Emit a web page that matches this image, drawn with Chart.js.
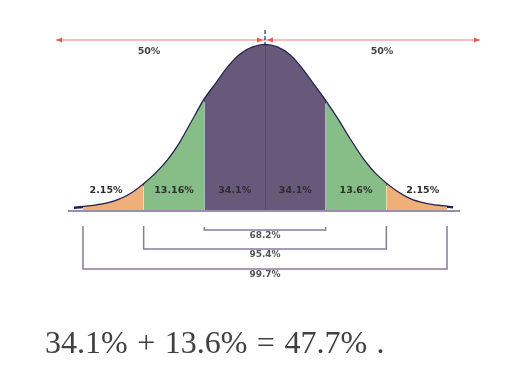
<!DOCTYPE html>
<html>
<head>
<meta charset="utf-8">
<script src="https://cdn.jsdelivr.net/npm/chart.js@4"></script>
<style>
  body { margin: 0; background: #fff; }
  #wrap { position: relative; width: 516px; height: 380px; }
  #chart { position: absolute; left: 0; top: 0; }
  #formula {
    position: absolute; left: 45px; top: 326px;
    font-family: "Liberation Serif", serif; font-size: 32px; line-height: 32px;
    color: #404040; white-space: pre; word-spacing: 1.5px;
  }
</style>
</head>
<body>
<div id="wrap">
  <canvas id="chart" width="516" height="380"></canvas>
  <div id="formula">34.1% + 13.6% = 47.7% .</div>
</div>
<script>
// curve: z (in sigma) and relative height (peak = 1)
const zVals = [-3.15, -3.0, -2.8, -2.6, -2.4, -2.2, -2.0, -1.8, -1.6, -1.4, -1.2, -1.0, -0.8, -0.6, -0.4, -0.2, 0,
  0.2, 0.4, 0.6, 0.8, 1.0, 1.2, 1.4, 1.6, 1.8, 2.0, 2.2, 2.4, 2.6, 2.8, 3.0, 3.1];
const heights = [0.019, 0.024, 0.032, 0.045, 0.068, 0.105, 0.160, 0.225, 0.305, 0.41, 0.54, 0.67, 0.77, 0.87, 0.945, 0.985, 1.0,
  0.985, 0.94, 0.86, 0.76, 0.66, 0.55, 0.43, 0.32, 0.23, 0.163, 0.11, 0.07, 0.047, 0.033, 0.026, 0.022];

const bounds = [-3, -2, -1, 0, 1, 2, 3];
const segLabels = ['2.15%', '13.16%', '34.1%', '34.1%', '13.6%', '2.15%'];
const rangeLabels = ['68.2%', '95.4%', '99.7%'];   // +-1, +-2, +-3 sigma
const halfLabels = ['50%', '50%'];

const ORANGE = '#F0AF78', GREEN = '#87BD87', PURPLE = '#685879';

const pts = zVals.map((z, i) => ({ x: z, y: heights[i] }));
const slice = (a, b) => pts.filter(p => p.x >= a - 1e-9 && p.x <= b + 1e-9);

function fillSet(a, b, color) {
  return {
    data: slice(a, b), backgroundColor: color, borderWidth: 0, pointRadius: 0,
    fill: 'origin', cubicInterpolationMode: 'monotone', clip: false
  };
}

const overlay = {
  id: 'overlay',
  afterDatasetsDraw(chart) {
    const c = chart.ctx;
    const xs = chart.scales.x, ys = chart.scales.y;
    const base = ys.getPixelForValue(0);
    const cx = xs.getPixelForValue(0);
    c.save();

    // centre line
    c.strokeStyle = '#5a4b6e';
    c.lineWidth = 1;
    c.beginPath();
    c.moveTo(cx + 0.5, ys.getPixelForValue(1));
    c.lineTo(cx + 0.5, base);
    c.stroke();

    // baseline
    c.strokeStyle = '#9a8db0';
    c.lineWidth = 2;
    c.beginPath();
    c.moveTo(68, base);
    c.lineTo(460, base);
    c.stroke();

    // red 50% arrows
    const ay = 40;
    c.strokeStyle = '#f4a6a6';
    c.lineWidth = 1.5;
    c.beginPath();
    c.moveTo(56, ay);
    c.lineTo(480, ay);
    c.stroke();
    c.fillStyle = '#e85a50';
    function head(tip, dir) {
      c.beginPath();
      c.moveTo(tip, ay);
      c.lineTo(tip - dir * 6, ay - 2.5);
      c.lineTo(tip - dir * 6, ay + 2.5);
      c.closePath();
      c.fill();
    }
    head(56, -1); head(480, 1); head(cx - 2, 1); head(cx + 2, -1);

    // dashed centre mark
    c.strokeStyle = '#2d2d5a';
    c.lineWidth = 1.2;
    c.setLineDash([4, 2]);
    c.beginPath();
    c.moveTo(cx, 30);
    c.lineTo(cx, 47);
    c.stroke();
    c.setLineDash([]);

    // labels
    c.textAlign = 'center';
    c.textBaseline = 'middle';
    c.font = 'bold 9.5px "DejaVu Sans"';
    c.fillStyle = '#444';
    c.fillText(halfLabels[0], 149, 52);
    c.fillText(halfLabels[1], 382, 52);

    c.fillStyle = '#2e2e2e';
    segLabels.forEach((t, i) => {
      let mid = (bounds[i] + bounds[i + 1]) / 2;
      if (i === 0) mid -= 0.12;
      if (i === segLabels.length - 1) mid += 0.1;
      c.fillText(t, xs.getPixelForValue(mid), base - 20);
    });

    // range brackets
    c.strokeStyle = '#8a7aa0';
    c.lineWidth = 1.5;
    const bottoms = [19, 38, 58];
    c.font = 'bold 9px "DejaVu Sans"';
    rangeLabels.forEach((t, i) => {
      const k = i + 1;
      const l = xs.getPixelForValue(-k), r = xs.getPixelForValue(k);
      const top = i === 0 ? base + 16 : base + 15;
      const yb = base + bottoms[i];
      c.beginPath();
      c.moveTo(l, top);
      c.lineTo(l, yb);
      c.lineTo(r, yb);
      c.lineTo(r, top);
      c.stroke();
      c.fillStyle = '#555';
      c.fillText(t, cx, yb + 6);
    });

    c.restore();
  }
};

new Chart(document.getElementById('chart'), {
  type: 'line',
  data: {
    datasets: [
      fillSet(bounds[0], bounds[1], ORANGE),
      fillSet(bounds[1], bounds[2], GREEN),
      fillSet(bounds[2], bounds[4], PURPLE),
      fillSet(bounds[4], bounds[5], GREEN),
      fillSet(bounds[5], bounds[6], ORANGE),
      {
        data: pts, borderColor: '#232350', borderWidth: 2.5, pointRadius: 0,
        fill: false, cubicInterpolationMode: 'monotone', clip: false
      }
    ]
  },
  options: {
    responsive: false,
    animation: false,
    layout: { padding: 0 },
    scales: {
      x: { type: 'linear', min: -265 / 60.67, max: 251 / 60.67, display: false },
      y: { min: -169 / 166, max: 211 / 166, display: false }
    },
    plugins: {
      legend: { display: false },
      tooltip: { enabled: false }
    }
  },
  plugins: [overlay]
});
</script>
</body>
</html>
